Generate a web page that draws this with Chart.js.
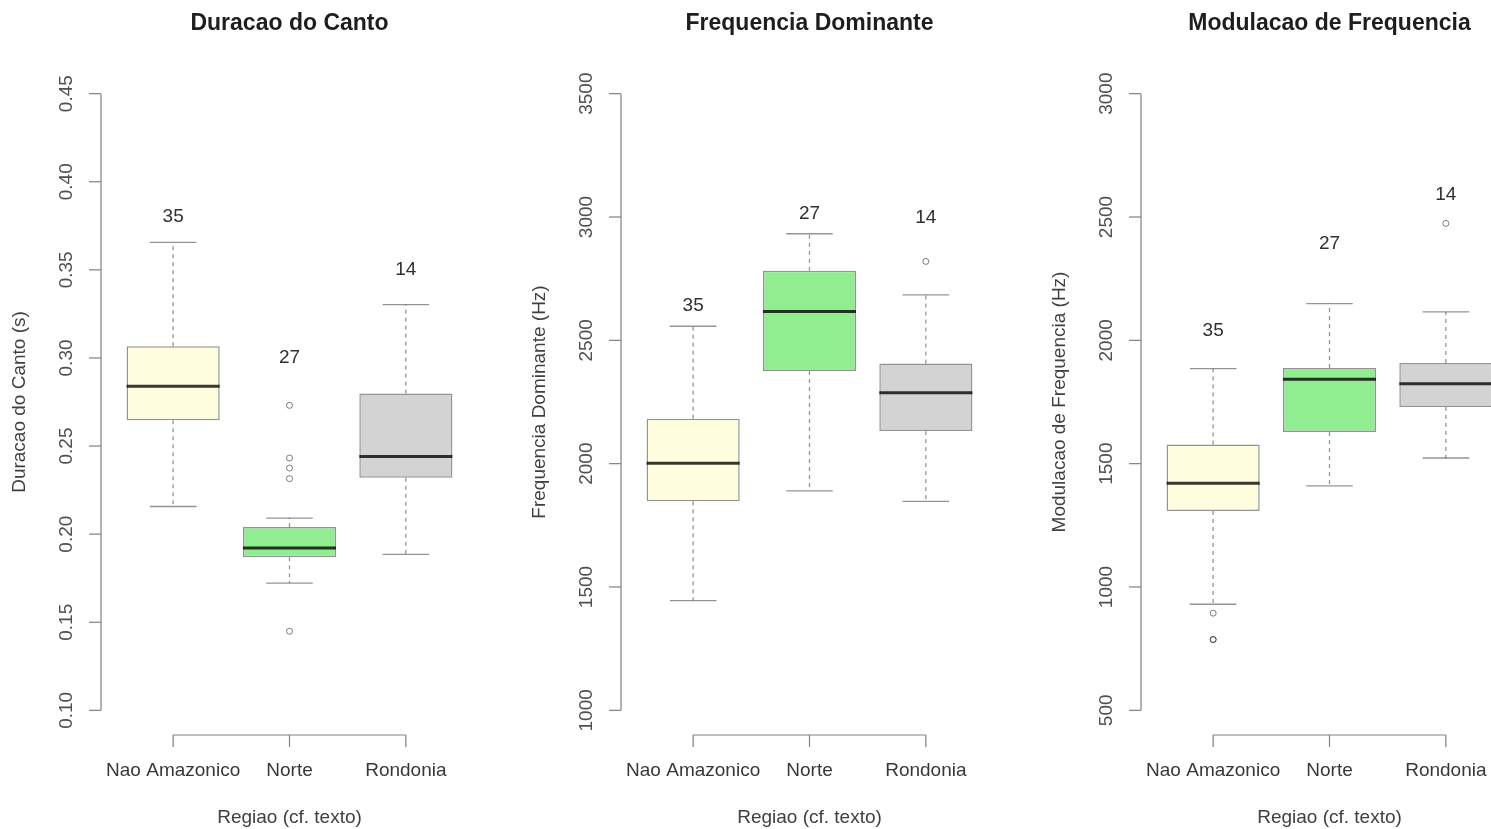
<!DOCTYPE html>
<html>
<head>
<meta charset="utf-8">
<title>Regiao - boxplots</title>
<script src="https://cdn.jsdelivr.net/npm/chart.js@4/dist/chart.umd.min.js"></script>
<style>
  html, body { margin: 0; padding: 0; background: #ffffff; }
  body { width: 1491px; height: 829px; overflow: hidden; position: relative; }
  .painel { position: absolute; top: 0; width: 520px; height: 829px; }
</style>
</head>
<body>
<div class="painel" style="left:0px"><canvas id="c1" width="520" height="829"></canvas></div>
<div class="painel" style="left:520px"><canvas id="c2" width="520" height="829"></canvas></div>
<div class="painel" style="left:1040px"><canvas id="c3" width="520" height="829"></canvas></div>
<script>
// Categories and sample sizes
const regioes = ['Nao Amazonico', 'Norte', 'Rondonia'];
const nAmostras = [35, 27, 14];
const cores = ['#FFFFE0', '#90EE90', '#D3D3D3'];

// Duracao do Canto (s): five-number summaries, outliers, tick values, label heights
const duracaoMin = [0.2157, 0.1722, 0.1885];
const duracaoQ1  = [0.2646, 0.1869, 0.2320];
const duracaoMed = [0.2839, 0.1922, 0.2441];
const duracaoQ3  = [0.3066, 0.2040, 0.2798];
const duracaoMax = [0.3656, 0.2091, 0.3303];
const duracaoOut = [[], [0.2731, 0.2432, 0.2375, 0.2315, 0.1449], []];
const duracaoTicks = [0.10, 0.15, 0.20, 0.25, 0.30, 0.35, 0.40, 0.45];
const duracaoPosN = [0.38, 0.30, 0.35];

// Frequencia Dominante (Hz)
const freqMin = [1445, 1890, 1847];
const freqQ1  = [1848, 2376, 2132];
const freqMed = [2002, 2617, 2287];
const freqQ3  = [2182, 2782, 2406];
const freqMax = [2557, 2932, 2684];
const freqOut = [[], [], [2820]];
const freqTicks = [1000, 1500, 2000, 2500, 3000, 3500];
const freqPosN = [2640, 3015, 2995];

// Modulacao de Frequencia (Hz)
const modMin = [930, 1410, 1523];
const modQ1  = [1308, 1628, 1730];
const modMed = [1421, 1842, 1824];
const modQ3  = [1578, 1888, 1908];
const modMax = [1885, 2149, 2115];
const modOut = [[894, 788, 786], [], [2474]];
const modTicks = [500, 1000, 1500, 2000, 2500, 3000];
const modPosN = [2040, 2390, 2590];

const paineis = [
  { id: 'c1', titulo: 'Duracao do Canto', eixoY: 'Duracao do Canto (s)', dec: 2,
    lo: duracaoMin, q1: duracaoQ1, med: duracaoMed, q3: duracaoQ3, hi: duracaoMax,
    out: duracaoOut, ticks: duracaoTicks, posN: duracaoPosN },
  { id: 'c2', titulo: 'Frequencia Dominante', eixoY: 'Frequencia Dominante (Hz)', dec: 0,
    lo: freqMin, q1: freqQ1, med: freqMed, q3: freqQ3, hi: freqMax,
    out: freqOut, ticks: freqTicks, posN: freqPosN },
  { id: 'c3', titulo: 'Modulacao de Frequencia', eixoY: 'Modulacao de Frequencia (Hz)', dec: 0,
    lo: modMin, q1: modQ1, med: modMed, q3: modQ3, hi: modMax,
    out: modOut, ticks: modTicks, posN: modPosN }
];

const FONTE = '"Liberation Sans", Arial, Helvetica, sans-serif';
const TRACO = 'rgba(0,0,0,0.42)';

function linha(ctx, x1, y1, x2, y2) {
  ctx.beginPath();
  ctx.moveTo(x1, y1);
  ctx.lineTo(x2, y2);
  ctx.stroke();
}

// Whiskers, medians, counts and R-style axes, drawn from the chart's scales
function decoracao(p) {
  return {
    id: 'boxDecor',
    afterDatasetsDraw(chart) {
      const { ctx, chartArea: a, scales: { x, y } } = chart;
      const caixas = chart.getDatasetMeta(0).data;
      ctx.save();

      regioes.forEach((r, i) => {
        const cx = x.getPixelForValue(i + 1);
        const meia = caixas[i].width / 2;
        const yLo = y.getPixelForValue(p.lo[i]);
        const yQ1 = y.getPixelForValue(p.q1[i]);
        const yMed = y.getPixelForValue(p.med[i]);
        const yQ3 = y.getPixelForValue(p.q3[i]);
        const yHi = y.getPixelForValue(p.hi[i]);

        ctx.strokeStyle = TRACO;
        ctx.lineWidth = 1.3;
        ctx.setLineDash([4, 4]);
        linha(ctx, cx, yQ3, cx, yHi);
        linha(ctx, cx, yQ1, cx, yLo);
        ctx.setLineDash([]);
        linha(ctx, cx - meia / 2, yHi, cx + meia / 2, yHi);
        linha(ctx, cx - meia / 2, yLo, cx + meia / 2, yLo);

        ctx.strokeStyle = 'rgba(0,0,0,0.78)';
        ctx.lineWidth = 3;
        linha(ctx, cx - meia, yMed, cx + meia, yMed);

        ctx.fillStyle = '#303030';
        ctx.font = '19px ' + FONTE;
        ctx.textAlign = 'center';
        ctx.textBaseline = 'middle';
        ctx.fillText(String(nAmostras[i]), cx, y.getPixelForValue(p.posN[i]));
      });

      // y axis
      ctx.strokeStyle = '#808080';
      ctx.lineWidth = 1.2;
      const yTop = y.getPixelForValue(p.ticks[p.ticks.length - 1]);
      const yBot = y.getPixelForValue(p.ticks[0]);
      linha(ctx, a.left, yTop, a.left, yBot);
      ctx.font = '19px ' + FONTE;
      ctx.fillStyle = '#505050';
      p.ticks.forEach(t => {
        const py = y.getPixelForValue(t);
        linha(ctx, a.left - 12, py, a.left, py);
        ctx.save();
        ctx.translate(a.left - 34, py);
        ctx.rotate(-Math.PI / 2);
        ctx.textAlign = 'center';
        ctx.textBaseline = 'middle';
        ctx.fillText(t.toFixed(p.dec), 0, 0);
        ctx.restore();
      });

      // x axis
      const x1 = x.getPixelForValue(1);
      const x3 = x.getPixelForValue(regioes.length);
      linha(ctx, x1, a.bottom, x3, a.bottom);
      ctx.fillStyle = '#383838';
      ctx.textAlign = 'center';
      ctx.textBaseline = 'middle';
      regioes.forEach((r, i) => {
        const px = x.getPixelForValue(i + 1);
        linha(ctx, px, a.bottom, px, a.bottom + 12);
        ctx.fillText(r, px, a.bottom + 36);
      });

      // axis titles
      const meioX = (a.left + a.right) / 2;
      ctx.fillStyle = '#404040';
      ctx.fillText('Regiao (cf. texto)', meioX, a.bottom + 83);
      ctx.save();
      ctx.translate(20, (a.top + a.bottom) / 2);
      ctx.rotate(-Math.PI / 2);
      ctx.fillText(p.eixoY, 0, 0);
      ctx.restore();

      // main title
      ctx.fillStyle = '#1e1e1e';
      ctx.font = 'bold 23px ' + FONTE;
      ctx.fillText(p.titulo, meioX, 24);

      ctx.restore();
    }
  };
}

paineis.forEach(p => {
  const faixa = p.ticks[p.ticks.length - 1] - p.ticks[0];
  const pontos = [];
  p.out.forEach((vals, i) => vals.forEach(v => pontos.push({ x: i + 1, y: v })));

  new Chart(document.getElementById(p.id), {
    type: 'bar',
    data: {
      datasets: [
        {
          type: 'bar',
          data: regioes.map((r, i) => ({ x: i + 1, y: [p.q1[i], p.q3[i]] })),
          backgroundColor: cores,
          borderColor: TRACO,
          borderWidth: 1.5,
          borderSkipped: false,
          barPercentage: 0.8,
          categoryPercentage: 1.0,
          order: 2
        },
        {
          type: 'scatter',
          data: pontos,
          pointStyle: 'circle',
          pointRadius: 3,
          backgroundColor: 'rgba(0,0,0,0)',
          borderColor: 'rgba(0,0,0,0.5)',
          borderWidth: 1,
          order: 1
        }
      ]
    },
    options: {
      responsive: false,
      animation: false,
      events: [],
      layout: { padding: { left: 101, right: 42, top: 69, bottom: 94 } },
      scales: {
        x: {
          type: 'linear', min: 0.38, max: 3.62, offset: false, bounds: 'data', display: false,
          // one tick per region, so box widths follow the spacing between regions
          afterBuildTicks: s => { s.ticks = regioes.map((r, i) => ({ value: i + 1 })); }
        },
        y: { type: 'linear', min: p.ticks[0] - 0.04 * faixa, max: p.ticks[p.ticks.length - 1] + 0.04 * faixa,
             beginAtZero: false, bounds: 'data', display: false }
      },
      plugins: { legend: { display: false }, tooltip: { enabled: false }, title: { display: false } }
    },
    plugins: [decoracao(p)]
  });
});
</script>
</body>
</html>
